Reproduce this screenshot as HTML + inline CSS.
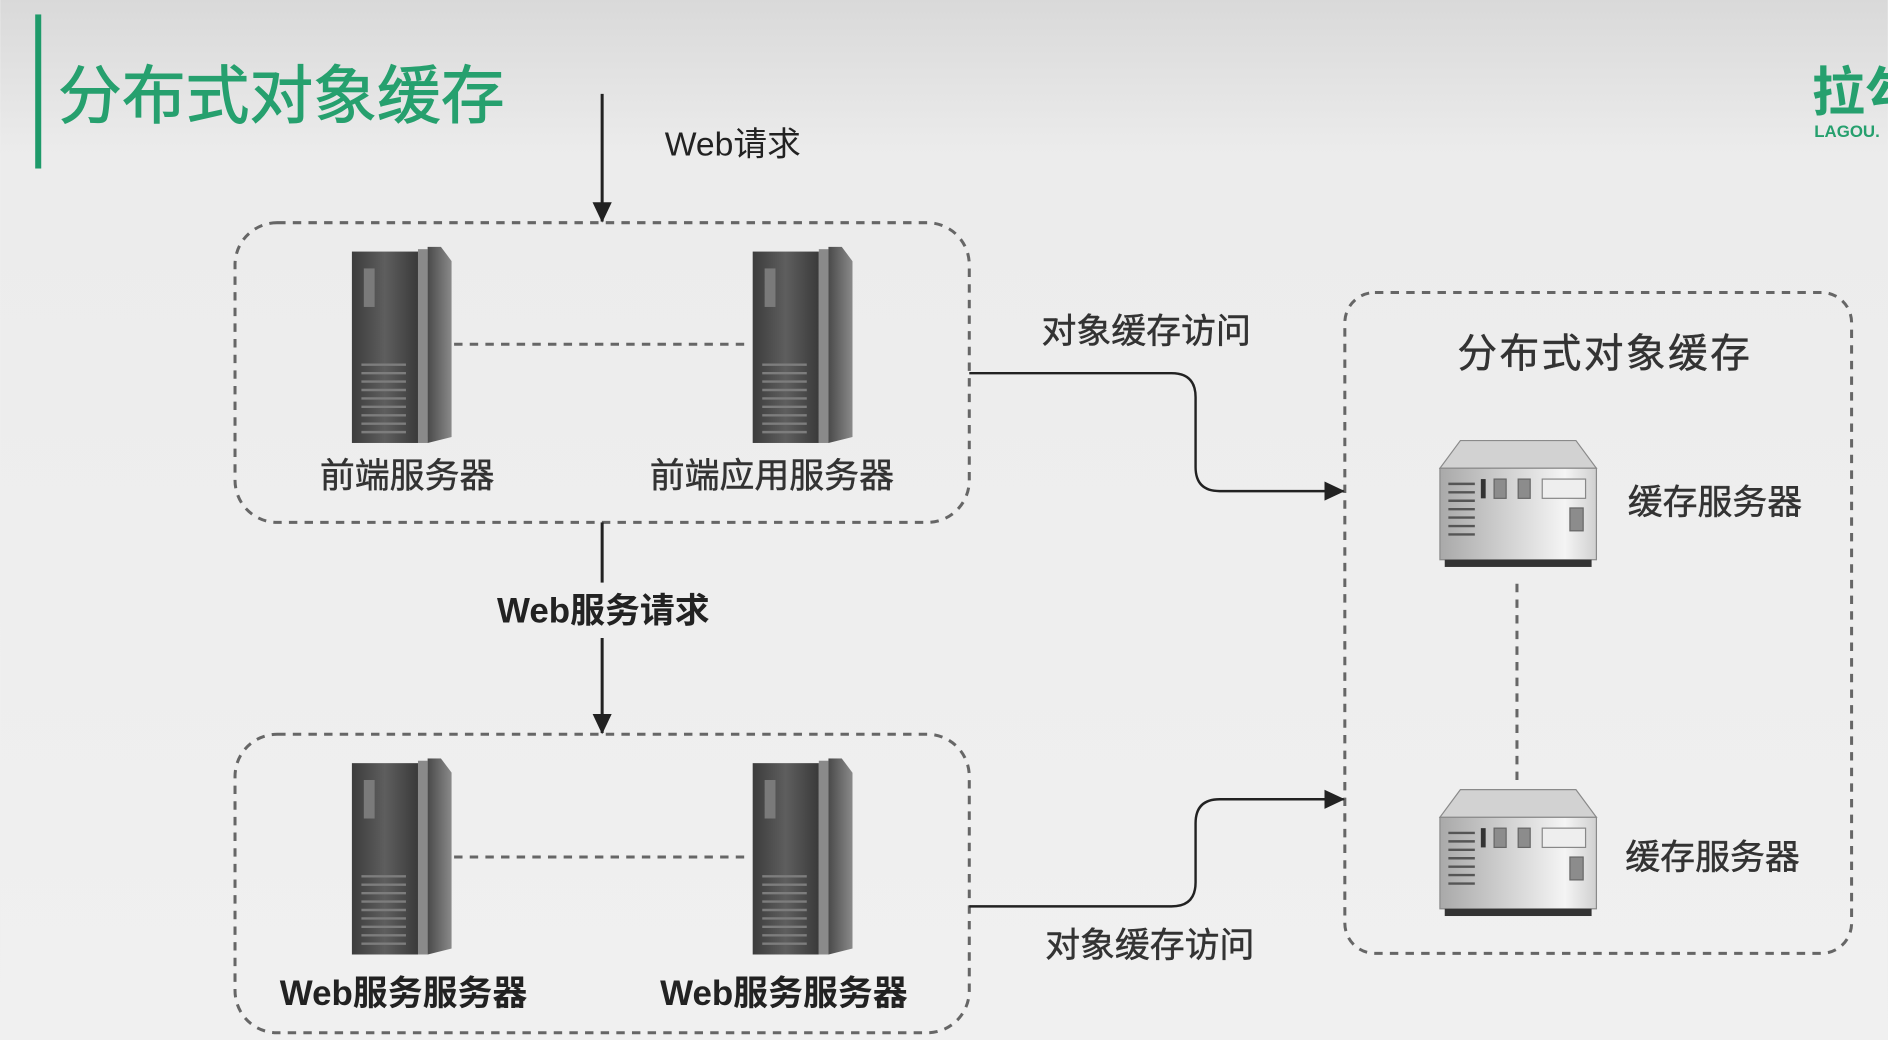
<!DOCTYPE html>
<html><head><meta charset="utf-8"><style>
html,body{margin:0;padding:0;width:1888px;height:1040px;overflow:hidden;background:#efefef}
svg{display:block}
text{font-family:"Liberation Sans","Noto Sans CJK SC",sans-serif}
</style></head><body>
<svg width="1888" height="1040" viewBox="0 0 1568 864" xmlns="http://www.w3.org/2000/svg">
<defs>
<linearGradient id="bg" x1="0" y1="0" x2="0" y2="1"><stop offset="0" stop-color="#d9d9d9"/><stop offset="0.15" stop-color="#ececec"/><stop offset="1" stop-color="#f0f0f0"/></linearGradient>
<linearGradient id="tf" x1="0" y1="0" x2="1" y2="0"><stop offset="0" stop-color="#3c3c3c"/><stop offset="0.5" stop-color="#5e5e5e"/><stop offset="1" stop-color="#3a3a3a"/></linearGradient>
<linearGradient id="ts" x1="0" y1="0" x2="1" y2="0"><stop offset="0" stop-color="#4a4a4a"/><stop offset="1" stop-color="#8a8a8a"/></linearGradient>
<linearGradient id="cf" x1="0" y1="0" x2="1" y2="0"><stop offset="0" stop-color="#a9a9a9"/><stop offset="0.8" stop-color="#f4f4f4"/><stop offset="1" stop-color="#d0d0d0"/></linearGradient>
<marker id="ah" markerWidth="18" markerHeight="18" refX="16" refY="8" orient="auto" markerUnits="userSpaceOnUse" viewBox="0 0 18 16"><path d="M0,0 L17,8 L0,16 z" fill="#222"/></marker>
<symbol id="tower" viewBox="0 0 83 163" width="83" height="163">
<rect x="0" y="4" width="55" height="159" fill="url(#tf)"/>
<rect x="55" y="2" width="8" height="161" fill="#8a8a8a"/>
<polygon points="63,0 74,0 83,12 83,158 63,163" fill="url(#ts)"/>
<rect x="10" y="18" width="9" height="32" fill="#7a7a7a"/>
<g stroke="#7d7d7d" stroke-width="2">
<line x1="8" y1="98" x2="45" y2="98"/><line x1="8" y1="105" x2="45" y2="105"/><line x1="8" y1="112" x2="45" y2="112"/><line x1="8" y1="119" x2="45" y2="119"/><line x1="8" y1="126" x2="45" y2="126"/><line x1="8" y1="133" x2="45" y2="133"/><line x1="8" y1="140" x2="45" y2="140"/><line x1="8" y1="147" x2="45" y2="147"/><line x1="8" y1="154" x2="45" y2="154"/>
</g>
</symbol>
<symbol id="cache" viewBox="0 0 132 107" width="132" height="107">
<polygon points="18,1 114,1 131,24 1,24" fill="#d2d2d2" stroke="#8a8a8a"/>
<rect x="1" y="24" width="130" height="76" fill="url(#cf)" stroke="#8a8a8a"/>
<rect x="5" y="100" width="122" height="6" fill="#333"/>
<g stroke="#555" stroke-width="2"><line x1="8" y1="37" x2="30" y2="37"/><line x1="8" y1="44" x2="30" y2="44"/><line x1="8" y1="51" x2="30" y2="51"/><line x1="8" y1="58" x2="30" y2="58"/><line x1="8" y1="65" x2="30" y2="65"/><line x1="8" y1="72" x2="30" y2="72"/><line x1="8" y1="79" x2="30" y2="79"/></g>
<rect x="35" y="33" width="4" height="16" fill="#333"/>
<rect x="46" y="33" width="10" height="16" fill="#8c8c8c" stroke="#666"/>
<rect x="66" y="33" width="10" height="16" fill="#8c8c8c" stroke="#666"/>
<rect x="86" y="33" width="36" height="16" fill="#eee" stroke="#888"/>
<rect x="109" y="57" width="11" height="19" fill="#8c8c8c" stroke="#666"/>
</symbol>
</defs>
<rect width="1568" height="864" fill="url(#bg)"/>
<rect x="29" y="12" width="5" height="128" fill="#1e9a6a"/>
<text x="48" y="98" font-size="53" fill="#26a06e" stroke="#26a06e" stroke-width="0.8">分布式对象缓存</text>
<text x="1505" y="92" font-size="44" font-weight="bold" fill="#26a06e">拉勾</text>
<text x="1507" y="114" font-size="14" font-weight="bold" fill="#26a06e">LAGOU.</text>

<line x1="500" y1="78" x2="500" y2="184" stroke="#222" stroke-width="2.5" marker-end="url(#ah)"/>
<text x="552" y="129" font-size="28" fill="#222">Web请求</text>

<g fill="none" stroke="#666" stroke-width="2.5" stroke-dasharray="7,6">
<rect x="195" y="185" width="610" height="249" rx="35"/>
<rect x="195" y="610" width="610" height="248" rx="35"/>
<rect x="1117" y="243" width="421" height="549" rx="25"/>
<line x1="377" y1="286" x2="623" y2="286"/>
<line x1="377" y1="712" x2="623" y2="712"/>
<line x1="1260" y1="485" x2="1260" y2="650"/>
</g>
<use href="#tower" x="292" y="205"/>
<use href="#tower" x="625" y="205"/>
<use href="#tower" x="292" y="630"/>
<use href="#tower" x="625" y="630"/>
<g fill="#333" stroke="#333" stroke-width="0.4">
<text x="338" y="405" font-size="29" text-anchor="middle">前端服务器</text>
<text x="641" y="405" font-size="29" text-anchor="middle">前端应用服务器</text>
<text x="865" y="285" font-size="29">对象缓存访问</text>
<text x="868" y="795" font-size="29">对象缓存访问</text>
<text x="1333" y="305" font-size="33" text-anchor="middle" letter-spacing="2">分布式对象缓存</text>
<text x="1352" y="427" font-size="29">缓存服务器</text>
<text x="1350" y="722" font-size="29">缓存服务器</text>
</g>
<text x="335" y="835" font-size="29" font-weight="bold" fill="#222" text-anchor="middle">Web服务服务器</text>
<text x="651" y="835" font-size="29" font-weight="bold" fill="#222" text-anchor="middle">Web服务服务器</text>

<line x1="500" y1="434" x2="500" y2="484" stroke="#222" stroke-width="2.5"/>
<text x="501" y="517" font-size="29" font-weight="bold" fill="#222" text-anchor="middle">Web服务请求</text>
<line x1="500" y1="530" x2="500" y2="609" stroke="#222" stroke-width="2.5" marker-end="url(#ah)"/>

<path d="M805,310 L973,310 Q993,310 993,330 L993,388 Q993,408 1013,408 L1116,408" fill="none" stroke="#222" stroke-width="2" marker-end="url(#ah)"/>
<path d="M805,753 L973,753 Q993,753 993,733 L993,684 Q993,664 1013,664 L1116,664" fill="none" stroke="#222" stroke-width="2" marker-end="url(#ah)"/>

<use href="#cache" x="1195" y="365"/>
<use href="#cache" x="1195" y="655"/>
</svg>
</body></html>
